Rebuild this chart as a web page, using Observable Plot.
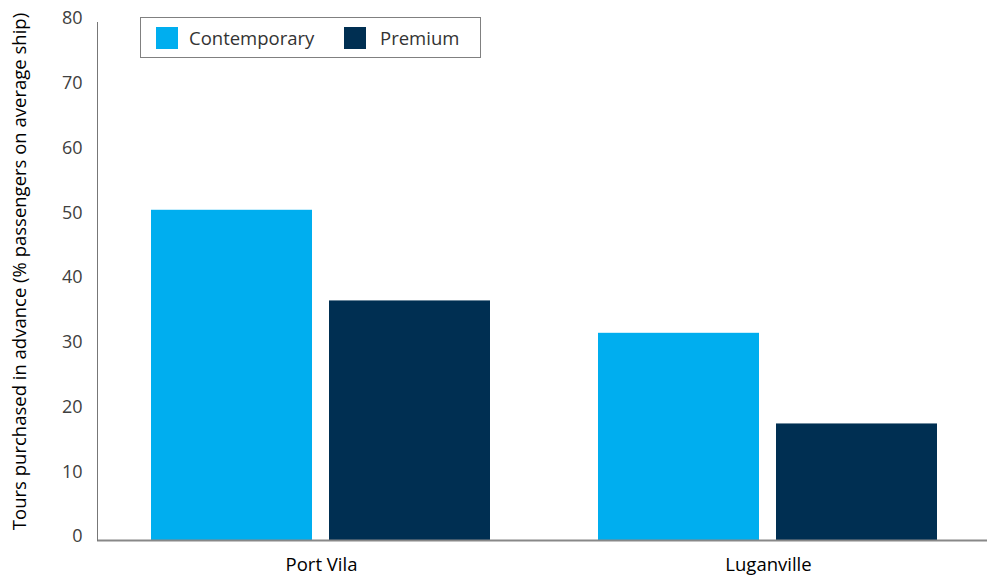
<!DOCTYPE html>
<html>
<head>
<meta charset="utf-8">
<script src="https://cdn.jsdelivr.net/npm/d3@7"></script>
<script src="https://cdn.jsdelivr.net/npm/@observablehq/plot@0.6"></script>
<style>
  html, body { margin: 0; padding: 0; background: #fff; }
  #wrap { position: relative; width: 987px; height: 578px; font-family: "Open Sans", Lato, sans-serif; }
  #wrap > svg { position: absolute; left: 0; top: 0; }
  #legend { position: absolute; left: 140px; top: 17px; width: 341px; height: 41px; border: 1px solid #808080; box-sizing: border-box; background: #fff; }
  .item { position: absolute; top: 0; height: 39px; display: flex; align-items: center; font-size: 18.5px; color: #333; }
  .sw { width: 22px; height: 22px; margin-right: 11px; }
</style>
</head>
<body>
<div id="wrap"></div>
<script>
const locations = ["Port Vila", "Luganville"];
const series = ["Contemporary", "Premium"];
const contemporary = [51, 32];
const premium = [37, 18];
const colors = ["#00AEEF", "#002F52"];
const yTicks = [0, 10, 20, 30, 40, 50, 60, 70, 80];
const yTitle = "Tours purchased in advance (% passengers on average ship)";

const data = [];
locations.forEach((loc, i) => {
  data.push({location: loc, series: series[0], value: contemporary[i]});
  data.push({location: loc, series: series[1], value: premium[i]});
});

const W = 987, H = 578;
const margins = {marginLeft: 97, marginRight: 0, marginTop: 22, marginBottom: 38};
const font = "'Open Sans', Lato, sans-serif";

// Bars, faceted by location
const bars = Plot.plot({
  width: W, height: H, ...margins,
  style: {fontFamily: font, background: "transparent"},
  fx: {domain: locations, paddingInner: 0.239, paddingOuter: 0.113, align: 0.525, label: null},
  x: {domain: series, paddingInner: 0.095, paddingOuter: 0, axis: null},
  y: {domain: [0, 80], axis: null},
  color: {domain: series, range: colors},
  marks: [
    Plot.barY(data, {fx: "location", x: "series", y: "value", fill: "series"}),
    Plot.axisFx({anchor: "bottom", tickSize: 0, tickPadding: 17, fontSize: 18.5, fill: "#000", label: null})
  ]
});

// Axes layer spanning the whole plot area
const axes = Plot.plot({
  width: W, height: H, ...margins,
  style: {fontFamily: font, background: "transparent"},
  y: {domain: [0, 80], ticks: yTicks},
  marks: [
    Plot.axisY({ticks: yTicks, tickSize: 0, tickPadding: 15, fontSize: 18, fill: "#404040", dy: -4, label: null}),
    Plot.ruleY([0], {stroke: "#888", strokeWidth: 2}),
    Plot.frame({anchor: "left", stroke: "#777"}),
    Plot.text([yTitle], {text: d => d, frameAnchor: "left", rotate: -90, dx: -77, dy: -10,
      textAnchor: "middle", lineAnchor: "middle", fontSize: 18.5, fill: "#000"})
  ]
});

const wrap = document.getElementById("wrap");
wrap.appendChild(bars);
wrap.appendChild(axes);

// Legend
const legend = document.createElement("div");
legend.id = "legend";
const swLeft = [15, 203];
series.forEach((s, i) => {
  const item = document.createElement("div");
  item.className = "item";
  item.style.left = swLeft[i] + "px";
  const sw = document.createElement("div");
  sw.className = "sw";
  sw.style.background = colors[i];
  if (i === 1) sw.style.marginRight = "14px";
  item.appendChild(sw);
  const t = document.createElement("span");
  t.textContent = s;
  item.appendChild(t);
  legend.appendChild(item);
});
wrap.appendChild(legend);
</script>
</body>
</html>
